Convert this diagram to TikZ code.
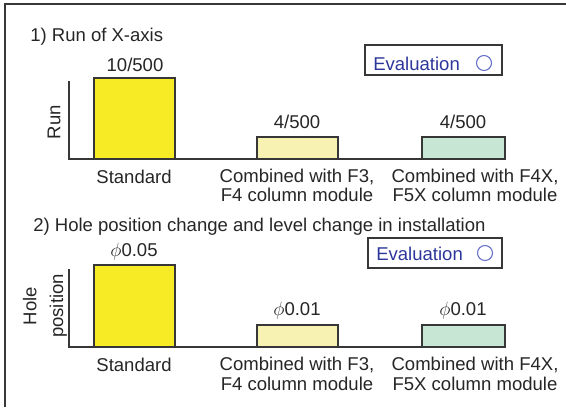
\documentclass[tikz,border=0pt]{standalone}
\usepackage{fontspec}
\setmainfont{Liberation Sans}
\definecolor{linegray}{RGB}{55,55,55}
\definecolor{barY}{RGB}{247,235,38}
\definecolor{barPY}{RGB}{247,242,178}
\definecolor{barG}{RGB}{200,230,212}
\definecolor{evalblue}{RGB}{45,55,155}
\definecolor{circblue}{RGB}{100,110,200}
\begin{document}
\begin{tikzpicture}[x=0.75pt,y=-0.75pt,
  txt/.style={font=\fontsize{13.9}{16}\selectfont, text=black!85, inner sep=0pt, anchor=base},
  bar/.style={draw=linegray, line width=1.1pt},
  axis/.style={draw=linegray, line width=1.1pt},
  evalbox/.style={draw=linegray, line width=1.1pt, fill=white},
  evaltxt/.style={font=\fontsize{13.9}{16}\selectfont, text=evalblue, inner sep=0pt, anchor=base west},
  evalcirc/.style={draw=circblue, line width=0.8pt}]
\useasboundingbox (0,0) rectangle (566,407);
\fill[white] (0,0) rectangle (566,407);
% frame
\draw[draw=linegray, line width=1.3pt] (5,407) -- (5,4) -- (566,4);

% ---------- chart 1 ----------
\node[txt, anchor=base west] (t1) at (30,41) {1) Run of X-axis};
\draw[evalbox] (365,45) rectangle (502,75);
\node[evaltxt] (e1) at (373,70) {Evaluation};
\draw[evalcirc] (484,63) circle (7.5);

\coordinate (a1top) at (69,81);
\coordinate (a1o) at (69,159);
\coordinate (a1end) at (506,159);
\draw[bar, fill=barY] (94,159) rectangle (175,78);
\draw[bar, fill=barPY] (257,159) rectangle (338,137);
\draw[bar, fill=barG] (422,159) rectangle (505,137);
\draw[axis] (a1top) -- (a1o) -- (a1end);

\node[txt] (v11) at (135,71) {10/500};
\node[txt] (v12) at (297,128) {4/500};
\node[txt] (v13) at (463,128) {4/500};
\node[txt, rotate=90, anchor=center] (r1) at (54,122) {Run};

\node[txt] (c11) at (134,183) {Standard};
\node[txt] (c12a) at (297,182) {Combined with F3,};
\node[txt] (c12b) at (297,201) {F4 column module};
\node[txt] (c13a) at (475,182) {Combined with F4X,};
\node[txt] (c13b) at (475,201) {F5X column module};

% ---------- chart 2 ----------
\node[txt, anchor=base west] (t2) at (33,231) {2) Hole position change and level change in installation};
\draw[evalbox] (368,238) rectangle (502,268);
\node[evaltxt] (e2) at (376,260) {Evaluation};
\draw[evalcirc] (485,253) circle (7.5);

\coordinate (a2top) at (69,269);
\coordinate (a2o) at (69,347);
\coordinate (a2end) at (506,347);
\draw[bar, fill=barY] (94,347) rectangle (175,265);
\draw[bar, fill=barPY] (257,347) rectangle (338,325);
\draw[bar, fill=barG] (422,347) rectangle (505,325);
\draw[axis] (a2top) -- (a2o) -- (a2end);

\node[txt] (v21) at (134,256) {$\phi$0.05};
\node[txt] (v22) at (297,315) {$\phi$0.01};
\node[txt] (v23) at (463,315) {$\phi$0.01};
\node[txt, rotate=90, anchor=center, align=center, font=\fontsize{13.9}{20}\selectfont] (r2) at (45,306) {Hole\\position};

\node[txt] (c21) at (134,371) {Standard};
\node[txt] (c22a) at (297,370) {Combined with F3,};
\node[txt] (c22b) at (297,390) {F4 column module};
\node[txt] (c23a) at (475,370) {Combined with F4X,};
\node[txt] (c23b) at (475,390) {F5X column module};
\end{tikzpicture}
\end{document}
